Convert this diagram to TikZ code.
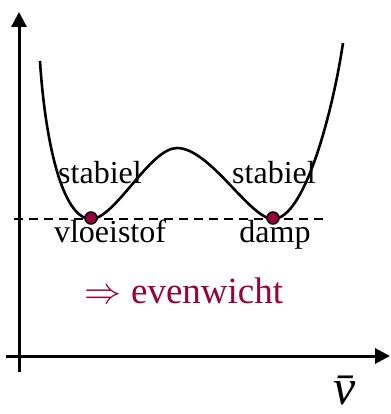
\RequirePackage{fix-cm}
\documentclass[tikz,border=0pt]{standalone}
\usepackage{fontspec}
\setmainfont{Liberation Serif}
\usetikzlibrary{arrows.meta}
\definecolor{evInk}{HTML}{000000}
\definecolor{evRed}{HTML}{99003D}
\tikzset{
  ev axis/.style={
    draw=evInk,
    line width=3pt,
    -{Triangle[length=15pt,width=15pt]}
  },
  ev curve/.style={draw=evInk, line width=2.6pt, line join=round},
  ev guide/.style={
    draw=evInk,
    line width=1.8pt,
    dash pattern=on 9pt off 6pt
  },
  ev dot/.style={circle, fill=evRed, draw=evInk, line width=1.5pt,
    inner sep=0pt, minimum size=12pt},
  ev label/.style={font=\fontsize{32}{36}\selectfont, text=evInk,
    anchor=base, inner sep=0pt},
  ev result/.style={font=\fontsize{37}{40}\selectfont, text=evRed,
    anchor=base, inner sep=0pt}
}

\begin{document}
\begin{tikzpicture}[x=1pt,y=-1pt]
  \useasboundingbox (0,0) rectangle (390,414);

  % axes
  \coordinate (yfoot) at (19,372);
  \coordinate (ytip) at (19,12);
  \coordinate (xfoot) at (6,356);
  \coordinate (xtip) at (390,356);
  \draw[ev axis] (yfoot) -- (ytip);
  \draw[ev axis] (xfoot) -- (xtip);
  \node[font=\fontsize{50}{54}\selectfont\itshape, anchor=base, inner sep=0pt]
    (vbar) at (345,404) {\=v};

  % equilibrium line
  \coordinate (gleft) at (14,219);
  \coordinate (gright) at (328,219);
  \draw[ev guide] (gleft) -- (gright);

  % van der Waals loop
  \draw[ev curve] (40,61) .. controls (45,140) and (62,219) .. (91,219)
    .. controls (115,219) and (150,148) .. (177,148)
    .. controls (210,148) and (250,219) .. (273,219)
    .. controls (305,219) and (333,110) .. (343,43);

  \node[ev dot] (liq) at (91,218) {};
  \node[ev dot] (vap) at (273,218) {};

  \node[ev label] (stabL) at (100,183) {stabiel};
  \node[ev label] (stabR) at (274,183) {stabiel};
  \node[ev label] (liqtxt) at (110,242) {vloeistof};
  \node[ev label] (vaptxt) at (275,242) {damp};

  \node[ev result] (equil) at (184,303) {$\Rightarrow$ evenwicht};
\end{tikzpicture}
\end{document}
